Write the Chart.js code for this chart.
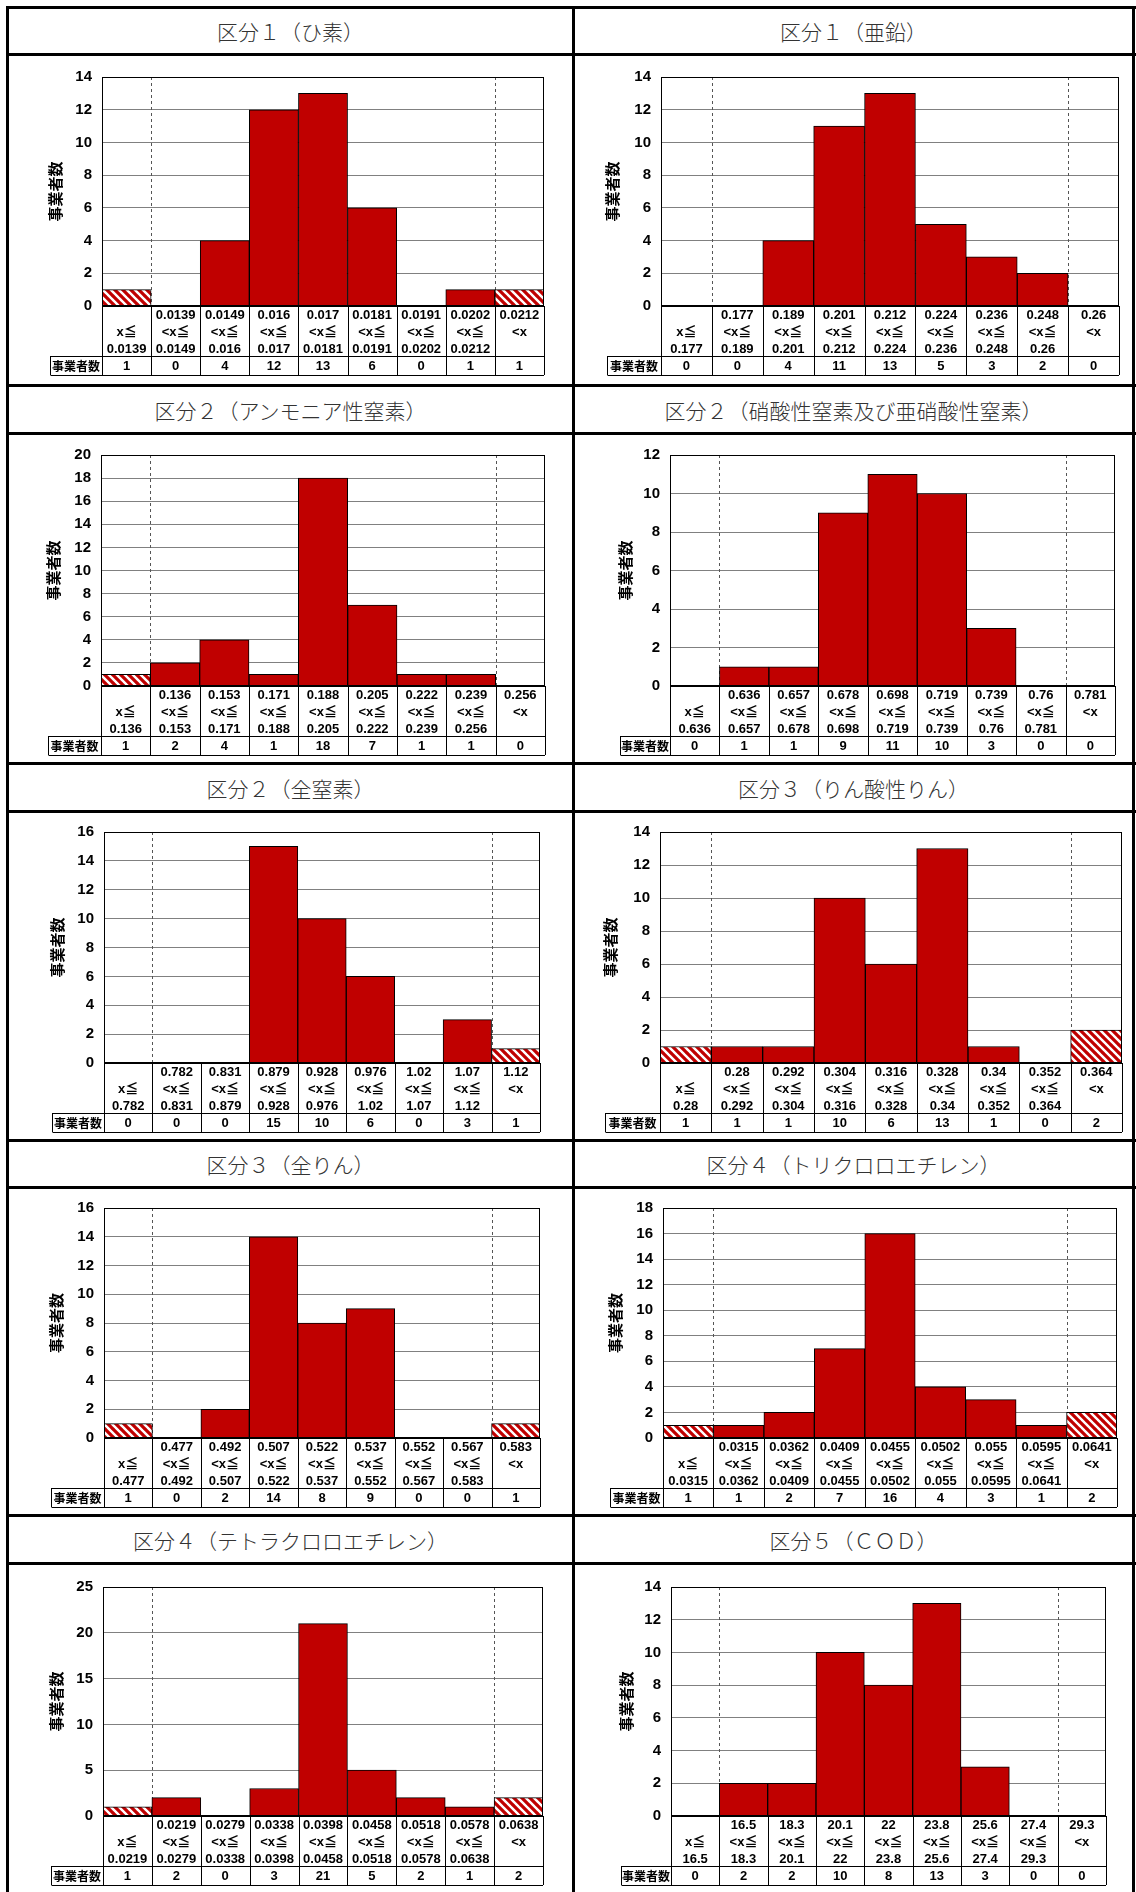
<!DOCTYPE html>
<html>
<head>
<meta charset="utf-8">
<script src="https://cdn.jsdelivr.net/npm/chart.js@4.4.1/dist/chart.umd.min.js"></script>
<style>
  body { margin: 0; background: #fff; }
  #page { position: relative; width: 1136px; height: 1892px; overflow: hidden; background: #fff; }
  .hl { position: absolute; height: 3px; background: #000; }
  .vl { position: absolute; width: 3px; background: #000; }
  .title {
    position: absolute; display: flex; align-items: center; justify-content: center;
    font-family: "Noto Sans CJK JP", sans-serif; font-weight: 300; font-size: 21px; color: #333;
  }
  canvas { position: absolute; }
</style>
</head>
<body>
<div id="page"></div>
<script>
// ---- data ----
const hisoBounds = [0.0139, 0.0149, 0.016, 0.017, 0.0181, 0.0191, 0.0202, 0.0212];
const hisoCounts = [1, 0, 4, 12, 13, 6, 0, 1, 1];

const aenBounds = [0.177, 0.189, 0.201, 0.212, 0.224, 0.236, 0.248, 0.26];
const aenCounts = [0, 0, 4, 11, 13, 5, 3, 2, 0];

const ammoniaBounds = [0.136, 0.153, 0.171, 0.188, 0.205, 0.222, 0.239, 0.256];
const ammoniaCounts = [1, 2, 4, 1, 18, 7, 1, 1, 0];

const nitrateBounds = [0.636, 0.657, 0.678, 0.698, 0.719, 0.739, 0.76, 0.781];
const nitrateCounts = [0, 1, 1, 9, 11, 10, 3, 0, 0];

const totalNBounds = [0.782, 0.831, 0.879, 0.928, 0.976, 1.02, 1.07, 1.12];
const totalNCounts = [0, 0, 0, 15, 10, 6, 0, 3, 1];

const phosphateBounds = [0.28, 0.292, 0.304, 0.316, 0.328, 0.34, 0.352, 0.364];
const phosphateCounts = [1, 1, 1, 10, 6, 13, 1, 0, 2];

const totalPBounds = [0.477, 0.492, 0.507, 0.522, 0.537, 0.552, 0.567, 0.583];
const totalPCounts = [1, 0, 2, 14, 8, 9, 0, 0, 1];

const tceBounds = [0.0315, 0.0362, 0.0409, 0.0455, 0.0502, 0.055, 0.0595, 0.0641];
const tceCounts = [1, 1, 2, 7, 16, 4, 3, 1, 2];

const pceBounds = [0.0219, 0.0279, 0.0338, 0.0398, 0.0458, 0.0518, 0.0578, 0.0638];
const pceCounts = [1, 2, 0, 3, 21, 5, 2, 1, 2];

const codBounds = [16.5, 18.3, 20.1, 22, 23.8, 25.6, 27.4, 29.3];
const codCounts = [0, 2, 2, 10, 8, 13, 3, 0, 0];

const yMaxes = [14, 14, 20, 12, 16, 14, 16, 18, 25, 14];
const ySteps = [2, 2, 2, 2, 2, 2, 2, 2, 5, 2];

const panels = [
  { title: '区分１（ひ素）', bounds: hisoBounds, counts: hisoCounts },
  { title: '区分１（亜鉛）', bounds: aenBounds, counts: aenCounts },
  { title: '区分２（アンモニア性窒素）', bounds: ammoniaBounds, counts: ammoniaCounts },
  { title: '区分２（硝酸性窒素及び亜硝酸性窒素）', bounds: nitrateBounds, counts: nitrateCounts },
  { title: '区分２（全窒素）', bounds: totalNBounds, counts: totalNCounts },
  { title: '区分３（りん酸性りん）', bounds: phosphateBounds, counts: phosphateCounts },
  { title: '区分３（全りん）', bounds: totalPBounds, counts: totalPCounts },
  { title: '区分４（トリクロロエチレン）', bounds: tceBounds, counts: tceCounts },
  { title: '区分４（テトラクロロエチレン）', bounds: pceBounds, counts: pceCounts },
  { title: '区分５（ＣＯＤ）', bounds: codBounds, counts: codCounts }
];

const Y_TITLE = '事業者数';
const ROW_HEAD = '事業者数';

// ---- page layout ----
const colLines = [7, 573, 1133];
const rowLines = [7, 385, 763, 1140, 1515, 1895];
const titleBottoms = [54, 433, 811, 1187, 1563];
const plotTops = [77, 455, 831, 1207, 1587];
const plotBottoms = [306, 686, 1063, 1438, 1816];
const panelX = [
  { head: 50, l: 102, r: 544 }, { head: 607, l: 661, r: 1119 },
  { head: 48, l: 101, r: 545 }, { head: 620, l: 670, r: 1115 },
  { head: 52, l: 104, r: 540 }, { head: 605, l: 660, r: 1122 },
  { head: 51, l: 104, r: 540 }, { head: 610, l: 663, r: 1117 },
  { head: 51, l: 103, r: 543 }, { head: 621, l: 671, r: 1106 }
];

const LATIN = "'Liberation Sans', 'Noto Sans CJK JP', sans-serif";
const CJK = "'Noto Sans CJK JP', sans-serif";
const RED = '#C00000';

const page = document.getElementById('page');

function addDiv(cls, x, y, w, h, text) {
  const d = document.createElement('div');
  d.className = cls;
  d.style.left = x + 'px'; d.style.top = y + 'px';
  d.style.width = w + 'px'; d.style.height = h + 'px';
  if (text) d.textContent = text;
  page.appendChild(d);
  return d;
}

// frame lines
for (let r = 0; r < 5; r++) {
  addDiv('hl', colLines[0], rowLines[r] - 1, 1136 - colLines[0], 3);
  addDiv('hl', colLines[0], titleBottoms[r] - 1, 1136 - colLines[0], 3);
}
colLines.forEach(x => addDiv('vl', x - 1, rowLines[0] - 1, 3, 1900));

function binLabels(b) {
  const out = [['', 'x≦', String(b[0])]];
  for (let i = 1; i < b.length; i++) out.push([String(b[i - 1]), '<x≦', String(b[i])]);
  out.push([String(b[b.length - 1]), '<x', '']);
  return out;
}

function hatch() {
  const c = document.createElement('canvas');
  c.width = 8; c.height = 8;
  const g = c.getContext('2d');
  g.fillStyle = '#fff'; g.fillRect(0, 0, 8, 8);
  g.strokeStyle = RED; g.lineWidth = 3.2;
  g.beginPath();
  for (let k = -8; k <= 8; k += 8) { g.moveTo(k - 1, -1); g.lineTo(k + 9, 9); }
  g.stroke();
  return g.createPattern(c, 'repeat');
}
const stripes = hatch();

// plot frame, dashed bin edges and the count table under the axis
const tablePlugin = {
  id: 'table',
  beforeDatasetsDraw(chart) {
    const { ctx, chartArea: a } = chart;
    const xs = chart.scales.x;
    const w = xs.getPixelForValue(1) - xs.getPixelForValue(0);
    ctx.save();
    ctx.strokeStyle = '#555'; ctx.lineWidth = 1; ctx.setLineDash([3, 3]);
    [1, 8].forEach(i => {
      const x = Math.round(xs.getPixelForValue(i) - w / 2) + 0.5;
      ctx.beginPath(); ctx.moveTo(x, a.top); ctx.lineTo(x, a.bottom); ctx.stroke();
    });
    ctx.restore();
  },
  afterDatasetsDraw(chart) {
    const { ctx, chartArea: a } = chart;
    ctx.save();
    ctx.strokeStyle = '#000'; ctx.lineWidth = 1;
    ctx.strokeRect(a.left + 0.5, a.top + 0.5, a.right - a.left - 1, a.bottom - a.top);
    ctx.lineWidth = 2;
    ctx.beginPath(); ctx.moveTo(a.left, a.bottom); ctx.lineTo(a.right, a.bottom); ctx.stroke();
    ctx.restore();
  },
  afterDraw(chart, args, opts) {
    const { ctx, chartArea: a } = chart;
    const xs = chart.scales.x;
    const n = opts.counts.length;
    const w = xs.getPixelForValue(1) - xs.getPixelForValue(0);
    const y0 = Math.round(a.bottom + 50), y1 = y0 + 19;
    ctx.save();
    ctx.strokeStyle = '#000'; ctx.lineWidth = 1;
    ctx.beginPath();
    for (let i = 0; i <= n; i++) {
      const x = Math.round(xs.getPixelForValue(i) - w / 2) + 0.5;
      ctx.moveTo(x, a.bottom); ctx.lineTo(x, y1);
    }
    const hx = Math.round(opts.head) + 0.5;
    ctx.moveTo(hx, y0); ctx.lineTo(hx, y1);
    ctx.moveTo(hx, y0 + 0.5); ctx.lineTo(a.right, y0 + 0.5);
    ctx.moveTo(hx, y1 + 0.5); ctx.lineTo(a.right, y1 + 0.5);
    ctx.stroke();
    ctx.fillStyle = '#000';
    ctx.textAlign = 'center'; ctx.textBaseline = 'middle';
    ctx.font = 'bold 13px ' + LATIN;
    opts.counts.forEach((v, i) => ctx.fillText(String(v), xs.getPixelForValue(i), (y0 + y1) / 2 + 1));
    ctx.font = 'bold 12px ' + CJK;
    ctx.fillText(ROW_HEAD, (opts.head + a.left) / 2, (y0 + y1) / 2 + 1);
    ctx.restore();
  }
};

panels.forEach((p, i) => {
  const row = Math.floor(i / 2), col = i % 2;
  const g = panelX[i];
  const cx = colLines[col] + 2, cw = colLines[col + 1] - colLines[col] - 3;
  addDiv('title', cx, rowLines[row] + 2, cw, titleBottoms[row] - rowLines[row] - 3, p.title);

  const cy = titleBottoms[row] + 2;
  const ch = rowLines[row + 1] - 1 - cy;
  const canvas = document.createElement('canvas');
  canvas.width = cw; canvas.height = ch;
  canvas.style.left = cx + 'px'; canvas.style.top = cy + 'px';
  canvas.style.width = cw + 'px'; canvas.style.height = ch + 'px';
  page.appendChild(canvas);

  const axisLeft = g.head - 4;
  const xHeight = cy + ch - plotBottoms[row];
  new Chart(canvas.getContext('2d'), {
    type: 'bar',
    data: {
      labels: binLabels(p.bounds),
      datasets: [{
        data: p.counts,
        backgroundColor: p.counts.map((v, k) => (k === 0 || k === p.counts.length - 1) ? stripes : RED),
        borderColor: '#000',
        borderWidth: 1,
        barPercentage: 1,
        categoryPercentage: 1
      }]
    },
    options: {
      responsive: false,
      animation: false,
      layout: { padding: { left: axisLeft - cx, right: cx + cw - g.r, top: plotTops[row] - cy, bottom: 0 } },
      plugins: {
        legend: { display: false },
        tooltip: { enabled: false },
        table: { counts: p.counts, head: g.head - cx }
      },
      scales: {
        x: {
          grid: { display: false, drawTicks: false },
          border: { display: false },
          ticks: {
            autoSkip: false, maxRotation: 0, padding: 1, color: '#000',
            font: { family: LATIN, size: 13, weight: 'bold', lineHeight: 1.3 }
          },
          afterFit: s => { s.height = xHeight; }
        },
        y: {
          min: 0, max: yMaxes[i],
          ticks: {
            stepSize: ySteps[i], padding: 10, color: '#000',
            font: { family: LATIN, size: 15, weight: 'bold' }
          },
          grid: { color: '#808080', drawTicks: false },
          border: { display: false },
          title: {
            display: true, text: Y_TITLE, color: '#000', padding: 0,
            font: { family: CJK, size: 15, weight: 'bold' }
          },
          afterFit: s => { s.width = g.l - axisLeft; }
        }
      }
    },
    plugins: [tablePlugin]
  });
});
</script>
</body>
</html>
